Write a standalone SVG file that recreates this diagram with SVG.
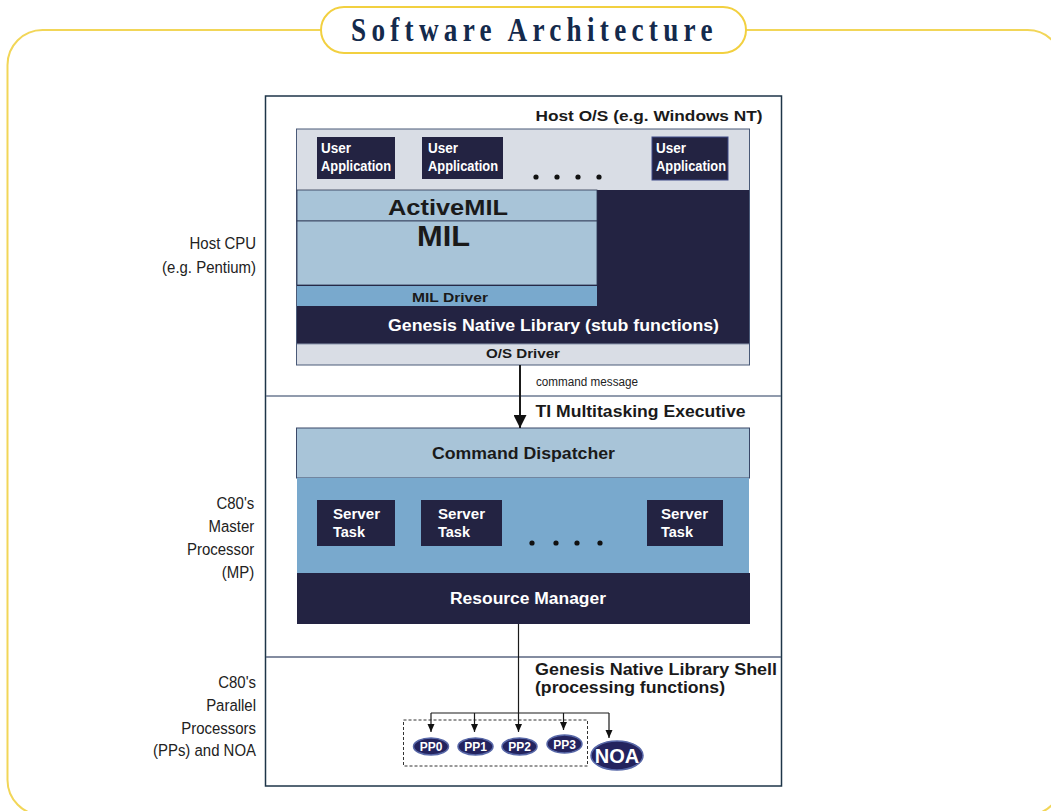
<svg xmlns="http://www.w3.org/2000/svg" width="1051" height="811" viewBox="0 0 1051 811">
<defs>
<style>
.b{font-family:"Liberation Sans",Arial,sans-serif;font-weight:bold}
.r{font-family:"Liberation Sans",Arial,sans-serif}
.w{fill:#ffffff}
.k{fill:#1a1a1a}
.lbl{font-size:17px;fill:#222;text-anchor:end}
.dark{fill:#232342}
.lb{fill:#a8c4d8}
.mb{fill:#79a9cd}
.lg{fill:#d9dde5}
.box{stroke:#4a5a78;stroke-width:1}
.conn{stroke:#1a1a1a;fill:none}
.pp{fill:#23235e;stroke:#5868a8;stroke-width:1.5}
</style>
<marker id="big" markerUnits="userSpaceOnUse" markerWidth="13" markerHeight="13" refX="13" refY="6.5" orient="auto"><path d="M0,0 L13,6.5 L0,13 z" fill="#111"/></marker>
<marker id="sm" markerUnits="userSpaceOnUse" markerWidth="8" markerHeight="8" refX="8" refY="3.5" orient="auto"><path d="M0,0 L8,3.5 L0,7 z" fill="#111"/></marker>
</defs>
<rect width="1051" height="811" fill="#ffffff"/>
<g id="frame">
<rect x="7.5" y="30" width="1055" height="785" rx="35" fill="none" stroke="#f2d658" stroke-width="2"/>
</g>
<g id="title">
<rect x="321" y="7" width="425" height="46" rx="23" fill="#ffffff" stroke="#f2d040" stroke-width="2"/>
<g transform="translate(351,0) scale(0.8,1) translate(-351,0)">
<text x="351" y="41" font-family="'Liberation Serif','Times New Roman',serif" font-weight="bold" font-size="34" letter-spacing="6.6" fill="#142a4c">Software Architecture</text>
</g>
</g>
<g id="outer">
<rect x="265.5" y="96" width="516" height="690" fill="#ffffff" stroke="#1e3548" stroke-width="1.5"/>
<line x1="266" y1="396" x2="781" y2="396" stroke="#6c7a92" stroke-width="1.5"/>
<line x1="266" y1="657" x2="781" y2="657" stroke="#5a6680" stroke-width="1.5"/>
</g>
<g id="side-labels" class="r lbl" transform="translate(256,0) scale(0.88,1) translate(-256,0)">
<text x="256" y="249">Host CPU</text>
<text x="256" y="273">(e.g. Pentium)</text>
<text x="254" y="509">C80's</text>
<text x="254" y="532">Master</text>
<text x="254" y="555">Processor</text>
<text x="254" y="578">(MP)</text>
<text x="256" y="688">C80's</text>
<text x="256" y="711">Parallel</text>
<text x="256" y="734">Processors</text>
<text x="256" y="756">(PPs) and NOA</text>
</g>
<g id="host">
<rect class="lg box" x="296.5" y="129" width="453" height="236"/>
<rect class="dark" x="297" y="190" width="452" height="154"/>
<text class="b k" x="535.5" y="121" font-size="15" textLength="227" lengthAdjust="spacingAndGlyphs">Host O/S (e.g. Windows NT)</text>
</g>
<g id="user-app-1">
<rect class="dark" x="317" y="137" width="78" height="42"/>
<text class="b w" font-size="14"><tspan x="321" y="153" textLength="30" lengthAdjust="spacingAndGlyphs">User</tspan><tspan x="321" y="171" textLength="70" lengthAdjust="spacingAndGlyphs">Application</tspan></text>
</g>
<g id="user-app-2">
<rect class="dark" x="422" y="137" width="81" height="42"/>
<text class="b w" font-size="14"><tspan x="428" y="153" textLength="30" lengthAdjust="spacingAndGlyphs">User</tspan><tspan x="428" y="171" textLength="70" lengthAdjust="spacingAndGlyphs">Application</tspan></text>
</g>
<g id="user-app-3">
<rect class="dark" x="652" y="137" width="76" height="43" stroke="#3e4a88" stroke-width="1"/>
<text class="b w" font-size="14"><tspan x="656" y="153" textLength="30" lengthAdjust="spacingAndGlyphs">User</tspan><tspan x="656" y="171" textLength="70" lengthAdjust="spacingAndGlyphs">Application</tspan></text>
</g>
<g id="host-dots" fill="#111">
<circle cx="536" cy="177" r="2.6"/><circle cx="557" cy="177" r="2.6"/><circle cx="578" cy="177" r="2.6"/><circle cx="599" cy="177" r="2.6"/>
</g>
<g id="activemil">
<rect class="lb" x="297" y="190" width="300" height="31" stroke="#2a3450" stroke-width="0.8"/>
<text class="b k" x="388" y="215" font-size="22" textLength="120" lengthAdjust="spacingAndGlyphs">ActiveMIL</text>
</g>
<g id="mil">
<rect class="lb" x="297" y="221" width="300" height="64" stroke="#2a3450" stroke-width="0.8"/>
<text class="b k" x="417" y="246" font-size="30" textLength="53" lengthAdjust="spacingAndGlyphs">MIL</text>
</g>
<g id="mil-driver">
<rect class="mb" x="297" y="286" width="300" height="20"/>
<text class="b k" x="412" y="302" font-size="13.5" textLength="76" lengthAdjust="spacingAndGlyphs">MIL Driver</text>
</g>
<g id="gnl-stub">
<text class="b w" x="388" y="331" font-size="16" textLength="331" lengthAdjust="spacingAndGlyphs">Genesis Native Library (stub functions)</text>
</g>
<g id="os-driver">
<line x1="297" y1="344" x2="749" y2="344" stroke="#8a96ac" stroke-width="1"/>
<text class="b k" x="486" y="358" font-size="13.5" textLength="74" lengthAdjust="spacingAndGlyphs">O/S Driver</text>
</g>
<g id="mp">
<rect class="lb" x="296.5" y="428" width="453" height="50" stroke="#3a4868" stroke-width="1"/>
<rect class="mb" x="297" y="478" width="452" height="95"/>
<rect class="dark" x="297" y="573" width="453" height="51"/>
<text class="b k" x="535.5" y="417" font-size="16.5" textLength="210" lengthAdjust="spacingAndGlyphs">TI Multitasking Executive</text>
</g>
<g id="command-dispatcher">
<text class="b k" x="432" y="459" font-size="16" textLength="183" lengthAdjust="spacingAndGlyphs">Command Dispatcher</text>
</g>
<g id="server-task-1">
<rect class="dark" x="317" y="500" width="78" height="46"/>
<text class="b w" font-size="14"><tspan x="333" y="519" textLength="47" lengthAdjust="spacingAndGlyphs">Server</tspan><tspan x="333" y="537" textLength="32" lengthAdjust="spacingAndGlyphs">Task</tspan></text>
</g>
<g id="server-task-2">
<rect class="dark" x="421" y="500" width="81" height="46"/>
<text class="b w" font-size="14"><tspan x="438" y="519" textLength="47" lengthAdjust="spacingAndGlyphs">Server</tspan><tspan x="438" y="537" textLength="32" lengthAdjust="spacingAndGlyphs">Task</tspan></text>
</g>
<g id="server-task-3">
<rect class="dark" x="647" y="500" width="76" height="46"/>
<text class="b w" font-size="14"><tspan x="661" y="519" textLength="47" lengthAdjust="spacingAndGlyphs">Server</tspan><tspan x="661" y="537" textLength="32" lengthAdjust="spacingAndGlyphs">Task</tspan></text>
</g>
<g id="mp-dots" fill="#111">
<circle cx="532" cy="543" r="2.6"/><circle cx="556" cy="543" r="2.6"/><circle cx="577" cy="543" r="2.6"/><circle cx="600" cy="543" r="2.6"/>
</g>
<g id="resource-manager">
<text class="b w" x="450" y="604" font-size="16" textLength="156" lengthAdjust="spacingAndGlyphs">Resource Manager</text>
</g>
<g id="pp-shell">
<text class="b k" x="535" y="675" font-size="16" textLength="242" lengthAdjust="spacingAndGlyphs">Genesis Native Library Shell</text>
<text class="b k" x="535" y="693" font-size="16" textLength="190" lengthAdjust="spacingAndGlyphs">(processing functions)</text>
<rect x="403.5" y="720" width="184" height="46" fill="none" stroke="#333" stroke-width="1" stroke-dasharray="3,2"/>
</g>
<g id="connectors">
<line class="conn" x1="520" y1="365" x2="520" y2="428" stroke-width="2" marker-end="url(#big)"/>
<text class="r" x="536" y="386" font-size="12" fill="#222" textLength="102" lengthAdjust="spacingAndGlyphs">command message</text>
<line class="conn" x1="518.5" y1="624" x2="518.5" y2="713" stroke-width="1.2"/>
<line class="conn" x1="431" y1="713" x2="609" y2="713" stroke-width="1.2"/>
<line class="conn" x1="431" y1="713" x2="431" y2="732" stroke-width="1.2" marker-end="url(#sm)"/>
<line class="conn" x1="474.5" y1="713" x2="474.5" y2="732" stroke-width="1.2" stroke="#555" marker-end="url(#sm)"/>
<line class="conn" x1="518.5" y1="713" x2="518.5" y2="732" stroke-width="1.2" marker-end="url(#sm)"/>
<line class="conn" x1="563.5" y1="713" x2="563.5" y2="730" stroke-width="1.2" stroke="#555" marker-end="url(#sm)"/>
<line class="conn" x1="609" y1="713" x2="609" y2="738" stroke-width="1.2" marker-end="url(#sm)"/>
</g>
<g id="pp0"><ellipse class="pp" cx="431" cy="746.5" rx="17.5" ry="8.5"/><text class="b w" x="431" y="751" font-size="12" text-anchor="middle">PP0</text></g>
<g id="pp1"><ellipse class="pp" cx="475.5" cy="746.5" rx="17.5" ry="8.5"/><text class="b w" x="475.5" y="751" font-size="12" text-anchor="middle">PP1</text></g>
<g id="pp2"><ellipse class="pp" cx="519.5" cy="746.5" rx="17.5" ry="8.5"/><text class="b w" x="519.5" y="751" font-size="12" text-anchor="middle">PP2</text></g>
<g id="pp3"><ellipse class="pp" cx="564.5" cy="744" rx="17.5" ry="9"/><text class="b w" x="564.5" y="748.5" font-size="12" text-anchor="middle">PP3</text></g>
<g id="noa"><ellipse class="pp" cx="617" cy="755.5" rx="26" ry="14.5"/><text class="b w" x="617" y="763" font-size="20" text-anchor="middle">NOA</text></g>
</svg>
